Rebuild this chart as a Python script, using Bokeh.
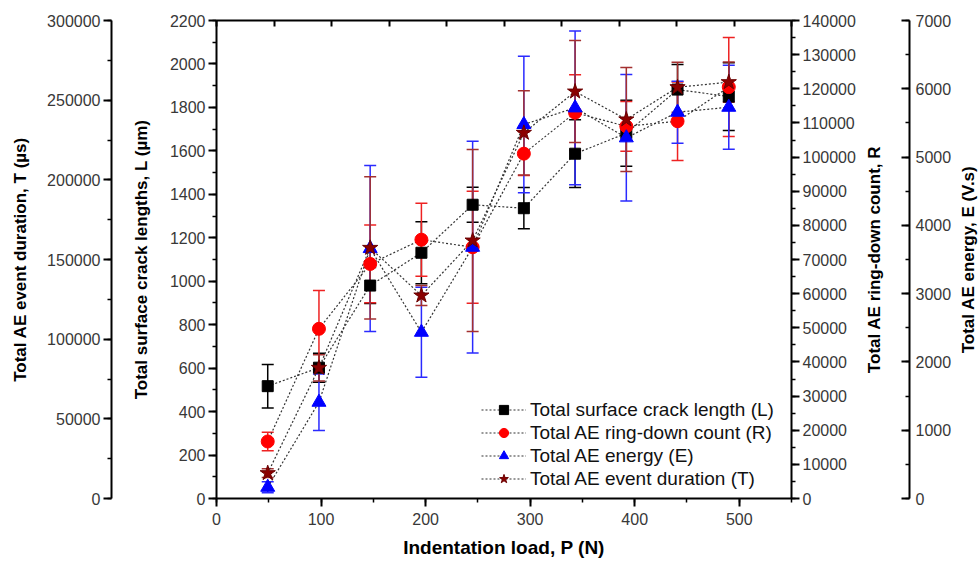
from bokeh.plotting import figure
from bokeh.layouts import row
from bokeh.models import (Range1d, LinearAxis, SingleIntervalTicker, FixedTicker,
                          BasicTickFormatter, Whisker, ColumnDataSource, Legend,
                          LegendItem, TeeHead, CustomJSTickFormatter)
from bokeh.embed import file_html
from bokeh.resources import INLINE

# ---------------- data ----------------
load = [49, 98, 147, 196, 245, 294, 343, 392, 441, 490]

crack_L = [517, 602, 980, 1131, 1352, 1336, 1587, 1681, 1882, 1850]
crack_L_err = [100, 67, 83, 143, 81, 95, 156, 152, 115, 156]

ring_R = [16700, 49700, 68700, 75800, 73600, 101000, 113000, 109000, 110500, 120500]
ring_R_err = [2700, 11200, 11400, 10700, 16400, 6400, 11100, 7300, 11500, 14500]

energy_E = [165, 1410, 3661, 2435, 3680, 5477, 5721, 5282, 5657, 5730]
energy_E_err = [80, 415, 1215, 660, 1550, 1000, 1125, 927, 455, 615]

dur_T = [15900, 82000, 157300, 127400, 161900, 229500, 255400, 237900, 258100, 261300]
dur_T_err = [2760, 8200, 44600, 6300, 57100, 26400, 32000, 32600, 15700, 12600]

legend_labels = ["Total surface crack length (L)", "Total AE ring-down count (R)",
                 "Total AE energy (E)", "Total AE event duration (T)"]

FONT = "Liberation Sans"
FRAME_H = 478
TOP = 20
BOTTOM = 63

p = figure(frame_width=575, frame_height=FRAME_H,
           min_border_left=216, min_border_right=70, min_border_top=TOP, min_border_bottom=BOTTOM,
           x_range=Range1d(0, 550), y_range=Range1d(0, 2200),
           output_backend="svg", toolbar_location=None)
p.extra_y_ranges = {"R": Range1d(0, 140000), "E": Range1d(0, 7000), "T": Range1d(0, 300000)}
p.grid.visible = False
p.outline_line_color = None
p.background_fill_color = "white"
p.border_fill_color = "white"


def style(ax, interval, label=None, inward=False):
    ax.ticker = SingleIntervalTicker(interval=interval, num_minor_ticks=2)
    ax.formatter = BasicTickFormatter(use_scientific=False)
    ax.axis_line_width = 2
    ax.axis_line_color = "black"
    ax.major_tick_line_width = 2
    ax.minor_tick_line_width = 1.5
    ax.major_tick_line_color = "black"
    ax.minor_tick_line_color = "black"
    if inward:
        ax.major_tick_in, ax.major_tick_out = 8, 0
        ax.minor_tick_in, ax.minor_tick_out = 4, 0
    else:
        ax.major_tick_in, ax.major_tick_out = 0, 8
        ax.minor_tick_in, ax.minor_tick_out = 0, 4
    ax.major_label_text_font = FONT
    ax.major_label_text_font_size = "16px"
    ax.major_label_text_color = "#383838"
    ax.major_label_standoff = 3
    if label:
        ax.axis_label = label
        ax.axis_label_text_font = FONT
        ax.axis_label_text_font_size = "17px"
        ax.axis_label_text_font_style = "bold"
        ax.axis_label_text_color = "black"
        ax.axis_label_standoff = 14


def spacer(width, rng):
    # invisible axis whose (white) tick at the range start only reserves space
    ax = LinearAxis(y_range_name=rng, ticker=FixedTicker(ticks=[0]))
    ax.formatter = CustomJSTickFormatter(code="return ''")
    ax.axis_line_color = None
    ax.major_tick_line_color = "white"
    ax.major_tick_line_alpha = 0.01
    ax.minor_tick_line_color = None
    ax.major_tick_out = width
    ax.minor_tick_out = 0
    ax.major_tick_in = 0
    ax.major_label_standoff = 0
    ax.major_label_text_font_size = "1px"
    return ax


def title_axis(text, standoff):
    # axis that only carries a (bottom-to-top) title
    ax = LinearAxis(ticker=FixedTicker(ticks=[]))
    ax.axis_line_color = None
    ax.major_tick_line_color = None
    ax.minor_tick_line_color = None
    ax.major_tick_out = 0
    ax.minor_tick_out = 0
    ax.major_tick_in = 0
    ax.major_label_standoff = 0
    ax.axis_label = text
    ax.axis_label_text_font = FONT
    ax.axis_label_text_font_size = "17px"
    ax.axis_label_text_font_style = "bold"
    ax.axis_label_text_color = "black"
    ax.axis_label_standoff = standoff
    return ax


def side_fig(left_border, right_border, yr):
    f = figure(frame_width=1, frame_height=FRAME_H,
               min_border_left=left_border, min_border_right=right_border,
               min_border_top=TOP, min_border_bottom=BOTTOM,
               x_range=Range1d(0, 1), y_range=yr,
               x_axis_type=None, y_axis_type=None,
               output_backend="svg", toolbar_location=None)
    f.outline_line_color = None
    f.background_fill_color = "white"
    f.border_fill_color = "white"
    return f


# x axis
style(p.xaxis[0], 100, "Indentation load, P (N)")
p.xaxis[0].axis_label_text_font_size = "19px"
p.xaxis[0].major_label_standoff = 6
p.xaxis[0].axis_label_standoff = 9

# L axis (inner left)
style(p.yaxis[0], 200, "Total surface crack lengths, L (\u00b5m)")
p.yaxis[0].axis_label_standoff = 16

# spacer + T axis (outer left)
p.add_layout(spacer(17, "default"), "left")
axT = LinearAxis(y_range_name="T")
style(axT, 50000, "Total AE event duration, T (\u00b5s)")
p.add_layout(axT, "left")

# R axis (right edge of the plotting box)
axR = LinearAxis(y_range_name="R")
style(axR, 10000)
p.add_layout(axR, "right")

# top axis (ticks only)
axTop = LinearAxis()
axTop.ticker = SingleIntervalTicker(interval=55, num_minor_ticks=0)
axTop.formatter = CustomJSTickFormatter(code="return ''")
axTop.axis_line_width = 2
axTop.major_tick_line_width = 2
axTop.major_tick_in = 6
axTop.major_tick_out = 0
axTop.minor_tick_line_color = None
axTop.major_label_standoff = 0
axTop.major_label_text_font_size = "1px"
p.add_layout(axTop, "above")

series = [
    (crack_L, crack_L_err, "default", "square", 11, "black", "black", "black"),
    (ring_R, ring_R_err, "R", "circle", 13, "#ff0000", "#ff0000", "#ee2222"),
    (energy_E, energy_E_err, "E", "triangle", 14, "#0000ff", "#0000ff", "#2a2aff"),
    (dur_T, dur_T_err, "T", "star", 16, "#8b0000", "#6a0000", "#a33030"),
]

# error bars
for vals, errs, rng, mk, sz, fill, edge, ecol in series:
    src = ColumnDataSource(dict(x=load,
                                lo=[v - e for v, e in zip(vals, errs)],
                                hi=[v + e for v, e in zip(vals, errs)]))
    w = Whisker(base="x", lower="lo", upper="hi", source=src, dimension="height",
                line_color=ecol, line_width=1.5, y_range_name=rng,
                upper_head=TeeHead(size=12, line_color=ecol, line_width=1.5),
                lower_head=TeeHead(size=12, line_color=ecol, line_width=1.5))
    p.add_layout(w)

lines = []
for vals, errs, rng, mk, sz, fill, edge, ecol in series:
    lines.append(p.line(load, vals, y_range_name=rng, line_color="#333333",
                        line_dash="2 2", line_width=1.2))

marks = []
for vals, errs, rng, mk, sz, fill, edge, ecol in series:
    marks.append(p.scatter(load, vals, y_range_name=rng, marker=mk, size=sz,
                           fill_color=fill, line_color=edge, line_width=1))

items = [LegendItem(label=lab, renderers=[ln, mr])
         for lab, ln, mr in zip(legend_labels, lines, marks)]
legend = Legend(items=items, location=(265, 8))
legend.border_line_color = None
legend.background_fill_alpha = 0
legend.padding = 0
legend.margin = 0
legend.spacing = 0
legend.glyph_width = 45
legend.glyph_height = 23
legend.label_height = 23
legend.label_standoff = 4
legend.label_text_font = FONT
legend.label_text_font_size = "19px"
legend.label_text_color = "#111111"
p.add_layout(legend)

# strip 2: R title (left panel) and the E axis (right panel)
p2 = side_fig(44, 46, Range1d(0, 7000))
p2.add_layout(title_axis("Total AE ring-down count, R", 25), "left")
axE = LinearAxis()
style(axE, 1000, inward=True)
axE.major_label_standoff = 6
p2.add_layout(axE, "right")

# strip 3: E title
p3 = side_fig(20, 0, Range1d(0, 1))
p3.add_layout(title_axis("Total AE energy, E (V.s)", 0), "left")

layout = row(p, p2, p3)
open("out.html", "w").write(file_html(layout, INLINE))
